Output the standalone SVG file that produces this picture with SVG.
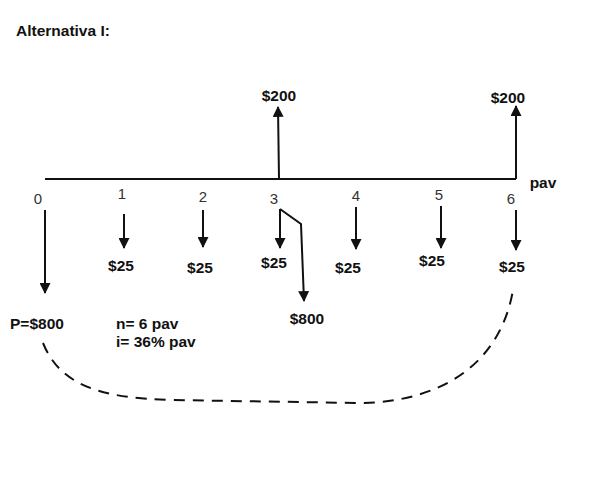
<svg xmlns="http://www.w3.org/2000/svg" width="606" height="477" viewBox="0 0 606 477">
  <style>
    .ln { stroke: #111; stroke-width: 2; fill: none; }
    .dash { stroke: #111; stroke-width: 2; fill: none; stroke-dasharray: 11 8; }
    .b { font-family: "Liberation Sans", Arial, sans-serif; font-weight: bold; font-size: 15.5px; fill: #111; }
    .n { font-family: "Liberation Sans", Arial, sans-serif; font-size: 15px; fill: #333; }
  </style>
  <defs>
    <marker id="ah" viewBox="0 0 10 10" refX="9" refY="5" markerWidth="6" markerHeight="5.5" orient="auto" markerUnits="strokeWidth">
      <path d="M0,0 L10,5 L0,10 z" fill="#111"/>
    </marker>
  </defs>
  <rect width="606" height="477" fill="#fff"/>

  <text class="b" x="16" y="36" font-size="14.5">Alternativa I:</text>

  <g id="connectors">
    <!-- time line -->
    <path class="ln" d="M45,179 H516"/>
    <!-- inflows -->
    <path class="ln" d="M279,179 L278,107" marker-end="url(#ah)"/>
    <path class="ln" d="M516,179 L516,106" marker-end="url(#ah)"/>
    <!-- outflows -->
    <path class="ln" d="M45,210 L45,293" marker-end="url(#ah)"/>
    <path class="ln" d="M124,214 L124,248" marker-end="url(#ah)"/>
    <path class="ln" d="M203,210 L203,247" marker-end="url(#ah)"/>
    <path class="ln" d="M280,209 L280,248" marker-end="url(#ah)"/>
    <path class="ln" d="M280,209 L301,224 L304,301" marker-end="url(#ah)"/>
    <path class="ln" d="M356,207 L356,249" marker-end="url(#ah)"/>
    <path class="ln" d="M441,206 L441,248" marker-end="url(#ah)"/>
    <path class="ln" d="M516,210 L516,250" marker-end="url(#ah)"/>
    <!-- equivalence arc -->
    <path class="dash" d="M43,343 C60,385 100,398 170,400 L360,403 C440,402 500,365 513,290"/>
  </g>

  <g id="labels-periods">
    <text class="n" x="38" y="204" text-anchor="middle">0</text>
    <text class="n" x="122" y="199" text-anchor="middle">1</text>
    <text class="n" x="203" y="202" text-anchor="middle">2</text>
    <text class="n" x="274" y="204" text-anchor="middle">3</text>
    <text class="n" x="356" y="201" text-anchor="middle">4</text>
    <text class="n" x="439" y="200" text-anchor="middle">5</text>
    <text class="n" x="511" y="204" text-anchor="middle">6</text>
  </g>

  <g id="labels-amounts">
    <text class="b" x="279" y="101" text-anchor="middle">$200</text>
    <text class="b" x="508" y="103" text-anchor="middle">$200</text>
    <text class="b" x="543" y="188" text-anchor="middle" font-size="18">pav</text>
    <text class="b" x="121" y="271" text-anchor="middle">$25</text>
    <text class="b" x="200" y="273" text-anchor="middle">$25</text>
    <text class="b" x="274" y="268" text-anchor="middle">$25</text>
    <text class="b" x="348" y="273" text-anchor="middle">$25</text>
    <text class="b" x="432" y="266" text-anchor="middle">$25</text>
    <text class="b" x="512" y="272" text-anchor="middle">$25</text>
    <text class="b" x="307" y="324" text-anchor="middle">$800</text>
    <text class="b" x="10" y="329">P=$800</text>
    <text class="b" x="116" y="329">n= 6 pav</text>
    <text class="b" x="116" y="347">i= 36% pav</text>
  </g>
</svg>
